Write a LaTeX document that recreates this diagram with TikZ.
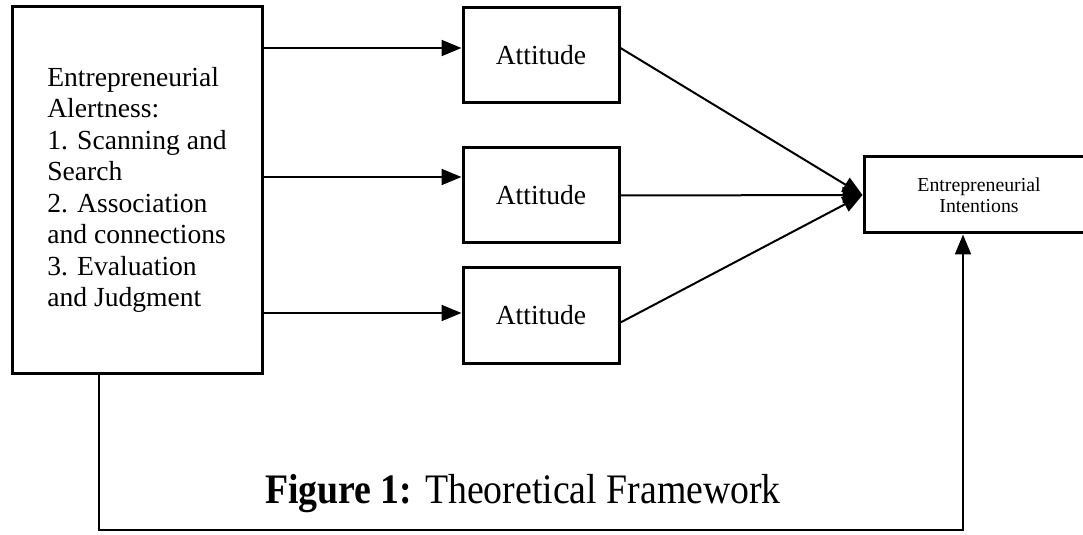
\documentclass[tikz,border=0pt]{standalone}
\usepackage{fontspec}
\setmainfont{Liberation Serif}
\usetikzlibrary{arrows.meta}
\def\boxwidth{1.5pt}

\begin{document}
\begin{tikzpicture}[x = 0.5pt, y = -0.5pt,
		block/.style = {draw, line width = \boxwidth, inner sep = 0pt},
		arr/.style = {line width = 1pt, -{Triangle[length = 10pt, width = 8pt]}}]
		\useasboundingbox (0, 0) rectangle (1083, 535);
		\node[block, minimum width = 125pt, minimum height = 183pt, align = left,
			font = \fontsize{13.8}{15.75}\selectfont] (alert) at (137, 190)
			{Entrepreneurial\\Alertness:\\1. Scanning and\\Search\\2. Association\\and connections\\3. Evaluation\\and Judgment};
		\foreach \i/\y in {1/55.5, 2/195.5, 3/315.5}
			\node[block, minimum width = 78pt, minimum height = 47.5pt,
				font = \fontsize{13.8}{15}\selectfont] (att\i) at (541, \y) {Attitude};
		\node[block, minimum width = 115pt, minimum height = 38pt, align = center,
			font = \fontsize{9.9}{10.5}\selectfont] (intent) at (979, 195) {Entrepreneurial\\Intentions};
		% arrow ends on the attitude boxes
		\coordinate (in1) at ([yshift = 3.75pt]att1.west);
		\coordinate (in2) at ([yshift = 9.25pt]att2.west);
		\coordinate (in3) at ([yshift = 1.25pt]att3.west);
		\foreach \i in {1, 2, 3}
			\draw[arr] (alert.east |- in\i) -- (in\i);
		\draw[arr] ([yshift = 3.75pt]att1.east) -- (intent.west);
		\draw[arr] (att2.east) -- (intent.west);
		\draw[arr] ([yshift = -3.5pt]att3.east) -- (intent.west);
		\coordinate (low) at (500, 530);
		\draw[arr] ([xshift = -19pt]alert.south) |- (low) -| ([xshift = -8pt]intent.south);
		\node[font = \fontsize{21}{24}\selectfont] (caption) at (523, 494)
			{\scalebox{0.9}[1]{\textbf{Figure 1:} Theoretical Framework}};
	\end{tikzpicture}
\end{document}
